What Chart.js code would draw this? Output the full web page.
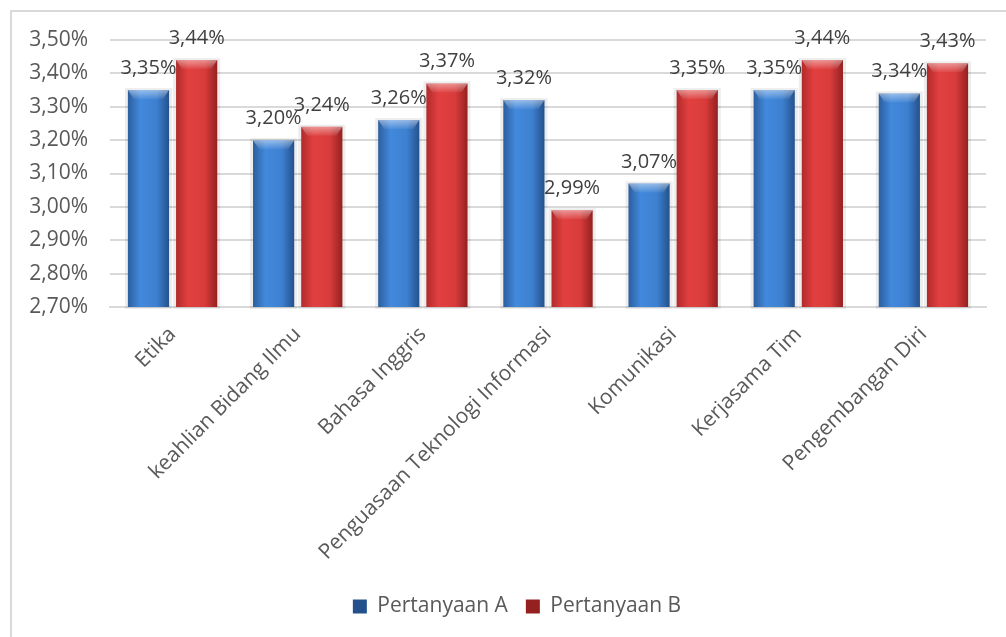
<!DOCTYPE html>
<html>
<head>
<meta charset="utf-8">
<script src="https://cdn.jsdelivr.net/npm/chart.js@4.4.1/dist/chart.umd.min.js"></script>
<style>
  html, body { margin: 0; padding: 0; background: #fff; overflow: hidden; }
  #frame { position: absolute; left: 10px; top: 10px; width: 1020px; height: 660px; border: 2px solid #d9d9d9; }
  #myChart { position: absolute; left: 0; top: 0; }
</style>
</head>
<body>
<div id="frame"></div>
<canvas id="myChart" width="1006" height="637"></canvas>
<script>
// data
var categories = ["Etika", "keahlian Bidang Ilmu", "Bahasa Inggris", "Penguasaan Teknologi Informasi",
  "Komunikasi", "Kerjasama Tim", "Pengembangan Diri"];
var pertanyaanA = [3.35, 3.20, 3.26, 3.32, 3.07, 3.35, 3.34];
var pertanyaanB = [3.44, 3.24, 3.37, 2.99, 3.35, 3.44, 3.43];
var yMin = 2.70;
var yMax = 3.50;
var yStep = 0.10;

var catPct = 0.77;
var barPct = 0.855;
var FONT = '"Open Sans", "DejaVu Sans", sans-serif';

function fmt(v) {
  return v.toFixed(2).replace(".", ",") + "%";
}

// horizontal shading across each bar, like the office 3D look
function shade(stops, solid) {
  return function (context) {
    var chart = context.chart;
    var xs = chart.scales.x;
    if (context.dataIndex === undefined || !xs || !chart.chartArea) return solid;
    var center = xs.getPixelForValue(context.dataIndex);
    var cat = (xs.width / categories.length) * catPct;
    var slot = cat / 2;
    var mid = center - cat / 2 + slot * context.datasetIndex + slot / 2;
    var w = slot * barPct;
    var g = chart.ctx.createLinearGradient(mid - w / 2, 0, mid + w / 2, 0);
    g.addColorStop(0, stops[0]);
    g.addColorStop(0.3, stops[1]);
    g.addColorStop(0.7, stops[2]);
    g.addColorStop(1, stops[3]);
    return g;
  };
}

var blueStops = ["#2c5e9e", "#4289dc", "#3d80d0", "#24518c"];
var redStops = ["#b22a2a", "#e24040", "#d83b3b", "#952020"];

// soft shadow behind the bars
var barShadow = {
  id: "barShadow",
  beforeDatasetsDraw: function (chart) {
    var c = chart.ctx;
    var bottom = chart.chartArea.bottom;
    c.save();
    c.fillStyle = "rgba(0,0,0,0.07)";
    chart.data.datasets.forEach(function (ds, i) {
      chart.getDatasetMeta(i).data.forEach(function (bar) {
        c.fillRect(bar.x - bar.width / 2 - 3, bar.y - 2, bar.width + 6, bottom - bar.y + 4);
      });
    });
    c.restore();
  }
};

// light bevel on the top and the value labels
var barTops = {
  id: "barTops",
  afterDatasetsDraw: function (chart) {
    var c = chart.ctx;
    c.save();
    chart.data.datasets.forEach(function (ds, i) {
      chart.getDatasetMeta(i).data.forEach(function (bar, j) {
        var left = bar.x - bar.width / 2;
        var g = c.createLinearGradient(0, bar.y, 0, bar.y + 10);
        g.addColorStop(0, "rgba(255,255,255,0.45)");
        g.addColorStop(1, "rgba(255,255,255,0)");
        c.fillStyle = g;
        c.beginPath();
        c.moveTo(left, bar.y);
        c.lineTo(left + bar.width, bar.y);
        c.lineTo(left + bar.width - 6, bar.y + 9);
        c.lineTo(left + 6, bar.y + 9);
        c.closePath();
        c.fill();
      });
    });
    c.font = "20px " + FONT;
    c.fillStyle = "#404040";
    c.textAlign = "center";
    c.textBaseline = "alphabetic";
    chart.data.datasets.forEach(function (ds, i) {
      chart.getDatasetMeta(i).data.forEach(function (bar, j) {
        c.fillText(fmt(ds.data[j]), bar.x, bar.y - 16);
      });
    });
    c.restore();
  }
};

// the legend sits a bit right of centre in the original
var legendNudge = {
  id: "legendNudge",
  afterLayout: function (chart) {
    if (chart.legend) {
      chart.legend.left += 24;
      chart.legend.right += 24;
    }
  }
};

var ctx = document.getElementById("myChart").getContext("2d");

var chartData = {
  labels: categories,
  datasets: [
    {
      label: "Pertanyaan A",
      data: pertanyaanA,
      backgroundColor: shade(blueStops, "#3a76c4"),
      categoryPercentage: catPct,
      barPercentage: barPct
    },
    {
      label: "Pertanyaan B",
      data: pertanyaanB,
      backgroundColor: shade(redStops, "#cf3636"),
      categoryPercentage: catPct,
      barPercentage: barPct
    }
  ]
};

var myChart = new Chart(ctx, {
  type: "bar",
  data: chartData,
  plugins: [barShadow, barTops, legendNudge],
  options: {
    responsive: false,
    animation: false,
    layout: { padding: { left: 0, right: 20, top: 40, bottom: 10 } },
    plugins: {
      tooltip: { enabled: false },
      legend: {
        position: "bottom",
        labels: {
          font: { family: FONT, size: 21 },
          color: "#595959",
          boxWidth: 14,
          boxHeight: 14,
          padding: 18
        }
      }
    },
    scales: {
      x: {
        grid: { display: false, drawTicks: false },
        border: { color: "#d9d9d9", width: 2 },
        ticks: {
          font: { family: FONT, size: 21 },
          color: "#595959",
          minRotation: 45,
          maxRotation: 45,
          autoSkip: false,
          padding: 15
        },
        afterFit: function (scale) { scale.height = 271; }
      },
      y: {
        min: yMin,
        max: yMax,
        grid: { color: "#d9d9d9", lineWidth: 2, drawTicks: false },
        border: { display: false },
        ticks: {
          stepSize: yStep,
          font: { family: FONT, size: 21 },
          color: "#595959",
          padding: 22,
          callback: function (v) { return fmt(v); }
        },
        afterFit: function (scale) { scale.width = 110; }
      }
    }
  }
});
</script>
</body>
</html>
